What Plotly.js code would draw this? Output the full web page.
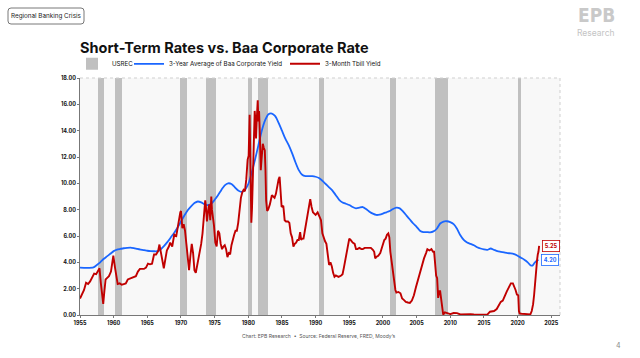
<!DOCTYPE html>
<html>
<head>
<meta charset="utf-8">
<script src="https://cdn.plot.ly/plotly-3.0.1.min.js"></script>
<style>
html,body{margin:0;padding:0;background:#fff;}
#chart{width:640px;height:358px;}
</style>
</head>
<body>
<div id="chart"></div>
<script>
// Recession periods (USREC = 1), start / end in decimal years, as shaded in the chart
const recStart = [1957.6, 1960.2, 1969.8, 1973.7, 1979.9, 1981.4, 1990.5, 2001.1, 2007.8, 2020.0];
const recEnd   = [1958.6, 1961.3, 1970.9, 1975.2, 1980.6, 1982.9, 1991.3, 2002.0, 2009.6, 2020.5];

// 3-Month T-bill yield
const tbillYear = [
1955.0,1955.3,1955.6,1955.9,1956.2,1956.5,1956.8,1957.1,1957.4,1957.7,1957.9,1958.1,1958.3,1958.45,1958.6,1958.8,1959.0,1959.3,1959.6,1959.95,
1960.2,1960.4,1960.6,1960.9,1961.2,1961.5,1961.8,1962.1,1962.4,1962.7,1963.0,1963.3,1963.6,1963.9,1964.2,1964.5,1964.8,1965.1,1965.4,1965.7,
1966.0,1966.3,1966.6,1966.8,1967.0,1967.2,1967.45,1967.7,1967.9,1968.2,1968.4,1968.7,1969.0,1969.3,1969.6,1969.9,1970.0,1970.2,1970.4,1970.6,
1970.8,1971.0,1971.2,1971.4,1971.6,1971.8,1972.0,1972.2,1972.5,1972.8,1973.0,1973.2,1973.4,1973.6,1973.7,1973.85,1974.0,1974.2,1974.35,1974.5,
1974.6,1974.75,1974.9,1975.1,1975.3,1975.5,1975.7,1975.9,1976.1,1976.3,1976.5,1976.7,1976.9,1977.1,1977.3,1977.5,1977.7,1977.9,1978.1,1978.3,
1978.5,1978.7,1978.9,1979.1,1979.3,1979.5,1979.7,1979.9,1980.05,1980.2,1980.3,1980.45,1980.55,1980.7,1980.85,1980.95,1981.05,1981.15,1981.3,1981.4,
1981.5,1981.6,1981.7,1981.85,1981.95,1982.05,1982.15,1982.3,1982.45,1982.55,1982.65,1982.8,1982.95,1983.2,1983.5,1983.7,1983.9,1984.1,1984.3,1984.5,
1984.65,1984.8,1984.95,1985.2,1985.4,1985.6,1985.9,1986.1,1986.3,1986.5,1986.7,1986.9,1987.1,1987.3,1987.5,1987.7,1987.85,1988.0,1988.2,1988.4,
1988.6,1988.8,1989.0,1989.2,1989.4,1989.6,1989.8,1990.0,1990.3,1990.6,1990.8,1991.0,1991.2,1991.4,1991.6,1991.8,1992.0,1992.2,1992.4,1992.6,
1992.8,1993.0,1993.4,1993.8,1994.0,1994.2,1994.4,1994.6,1994.8,1995.0,1995.2,1995.5,1995.8,1996.0,1996.2,1996.5,1996.8,1997.0,1997.3,1997.6,
1997.9,1998.2,1998.5,1998.7,1998.85,1999.0,1999.3,1999.6,1999.9,2000.2,2000.4,2000.6,2000.8,2000.95,2001.1,2001.3,2001.5,2001.7,2001.85,2002.0,
2002.3,2002.6,2002.85,2003.1,2003.4,2003.7,2004.0,2004.3,2004.6,2004.9,2005.2,2005.5,2005.8,2006.1,2006.4,2006.6,2006.9,2007.2,2007.45,2007.6,
2007.75,2007.9,2008.05,2008.2,2008.35,2008.5,2008.65,2008.8,2008.95,2009.2,2009.6,2010.0,2010.5,2011.0,2011.5,2012.0,2012.5,2013.0,2013.5,2014.0,
2014.5,2015.0,2015.5,2015.9,2016.2,2016.5,2016.9,2017.2,2017.5,2017.8,2018.1,2018.4,2018.7,2019.0,2019.3,2019.5,2019.7,2019.9,2020.1,2020.2,
2020.3,2020.6,2021.0,2021.5,2021.9,2022.1,2022.3,2022.45,2022.6,2022.75,2022.9,2023.0,2023.1,2023.2
];
const tbillYield = [
1.25,1.55,1.9,2.45,2.35,2.55,2.9,3.15,3.1,3.35,3.55,2.4,1.2,0.85,1.7,2.7,2.8,2.95,3.3,4.5,
3.6,2.9,2.35,2.4,2.3,2.35,2.4,2.7,2.75,2.85,2.9,2.95,3.3,3.5,3.5,3.5,3.6,3.9,3.85,3.9,
4.6,4.6,4.85,5.35,4.8,4.3,3.55,4.3,4.9,5.2,5.5,5.2,6.1,6.0,7.0,7.8,7.9,6.6,6.9,6.4,
5.4,4.2,3.4,4.5,5.4,4.7,3.4,3.2,4.0,4.8,5.4,6.2,7.2,8.7,8.3,7.1,7.8,8.4,7.2,9.0,
8.0,7.5,6.8,5.5,5.2,6.4,6.2,5.4,5.0,5.2,5.3,5.0,4.4,4.7,4.6,5.3,5.8,6.1,6.4,6.4,
7.0,8.0,8.9,9.3,9.5,9.4,10.3,11.8,12.1,15.2,11.5,7.0,8.1,10.3,13.7,15.5,14.8,13.4,15.3,16.3,
14.7,15.5,14.0,11.0,11.7,12.8,13.0,12.7,12.5,11.0,8.7,7.9,8.0,8.4,9.1,9.0,8.9,9.2,9.8,10.3,
10.5,9.5,8.2,8.3,7.2,7.1,7.1,7.0,6.2,5.9,5.2,5.4,5.5,5.7,5.7,6.3,5.7,5.8,5.8,6.4,
7.0,7.6,8.3,8.8,8.2,7.8,7.7,7.6,7.8,7.5,7.2,6.2,5.8,5.6,5.4,4.6,3.8,4.0,3.7,3.2,
2.9,3.0,2.9,3.0,3.1,3.6,4.2,4.6,5.3,5.8,5.7,5.5,5.4,5.0,5.0,5.1,5.0,5.0,5.1,5.1,
5.1,5.1,4.95,4.8,4.3,4.4,4.5,4.7,5.2,5.7,5.8,6.1,6.2,5.9,4.8,3.9,3.5,2.4,1.9,1.7,
1.75,1.65,1.25,1.15,1.0,0.95,0.92,1.1,1.5,2.1,2.7,3.1,3.7,4.3,4.7,5.0,4.9,5.0,4.8,4.8,
3.9,3.0,2.8,1.3,1.8,1.8,1.2,0.3,0.03,0.2,0.15,0.07,0.15,0.14,0.04,0.05,0.09,0.07,0.04,0.05,
0.03,0.02,0.03,0.25,0.3,0.3,0.45,0.75,1.0,1.1,1.5,1.8,2.1,2.4,2.4,2.2,1.9,1.55,1.5,0.3,
0.12,0.1,0.08,0.05,0.05,0.3,0.8,1.5,2.6,3.3,4.2,4.6,4.8,5.25
];

// 3-Year average of Baa corporate yield
const baaYear = [
1955.0,1956.0,1957.0,1957.5,1958.0,1958.5,1959.0,1959.5,1960.0,1960.5,1961.0,1961.5,1962.0,1962.5,1963.0,1963.5,1964.0,1964.5,1965.0,1965.5,
1966.0,1966.5,1967.0,1967.5,1968.0,1968.5,1969.0,1969.5,1970.0,1970.5,1971.0,1971.5,1972.0,1972.5,1973.0,1973.5,1974.0,1974.5,1975.0,1975.5,
1976.0,1976.5,1977.0,1977.5,1978.0,1978.5,1979.0,1979.5,1980.0,1980.5,1981.0,1981.5,1982.0,1982.5,1983.0,1983.5,1984.0,1984.5,1985.0,1985.5,
1986.0,1986.5,1987.0,1987.5,1988.0,1988.5,1989.0,1989.5,1990.0,1990.5,1991.0,1991.5,1992.0,1992.5,1993.0,1993.5,1994.0,1994.5,1995.0,1995.5,
1996.0,1996.5,1997.0,1997.5,1998.0,1998.5,1999.0,1999.5,2000.0,2000.5,2001.0,2001.5,2002.0,2002.5,2003.0,2003.5,2004.0,2004.5,2005.0,2005.5,
2006.0,2006.5,2007.0,2007.5,2008.0,2008.5,2009.0,2009.5,2010.0,2010.5,2011.0,2011.5,2012.0,2012.5,2013.0,2013.5,2014.0,2014.5,2015.0,2015.5,
2016.0,2016.5,2017.0,2017.5,2018.0,2018.5,2019.0,2019.5,2020.0,2020.5,2021.0,2021.5,2021.9,2022.2,2022.5,2022.8,2023.1
];
const baaAvg = [
3.6,3.58,3.62,3.8,4.0,4.25,4.45,4.65,4.85,4.97,5.02,5.07,5.1,5.12,5.08,5.02,4.97,4.93,4.88,4.85,
4.84,4.85,5.0,5.25,5.55,5.9,6.25,6.65,7.1,7.55,7.95,8.25,8.5,8.62,8.55,8.4,8.35,8.45,8.75,9.1,
9.5,9.85,10.0,9.95,9.7,9.45,9.35,9.5,9.95,10.8,11.8,12.9,14.0,14.8,15.25,15.3,15.1,14.6,14.0,13.4,
12.9,12.3,11.6,11.0,10.65,10.55,10.55,10.55,10.5,10.4,10.2,9.95,9.7,9.45,9.1,8.75,8.55,8.45,8.35,8.2,
8.1,8.15,8.2,8.05,7.85,7.7,7.6,7.62,7.7,7.8,7.9,8.05,8.15,8.1,7.85,7.55,7.25,6.95,6.7,6.4,
6.3,6.3,6.28,6.35,6.55,6.95,7.1,7.12,7.05,6.9,6.55,6.05,5.7,5.5,5.4,5.3,5.15,5.05,4.98,4.95,
5.05,4.95,4.85,4.8,4.75,4.7,4.68,4.62,4.5,4.35,4.2,4.0,3.78,3.75,3.95,4.1,4.2
];

const xTicks = [1955,1960,1965,1970,1975,1980,1985,1990,1995,2000,2005,2010,2015,2020,2025];

const RED = '#c00000';
const BLUE = '#1a66ff';
const FONT = 'Inter, "DejaVu Sans", sans-serif';

const recMid = recStart.map((s,i)=>(s+recEnd[i])/2);
const recWidth = recStart.map((s,i)=>recEnd[i]-s);
const recTop = recStart.map(()=>18);

const traces = [
  {type:'bar', name:'USREC', x:recMid, y:recTop, width:recWidth, legend:'legend',
   marker:{color:'#c0c0c0', line:{width:0}}, hoverinfo:'skip'},
  {type:'scatter', mode:'lines', name:'3-Year Average of Baa Corporate Yield', legend:'legend2',
   x:baaYear, y:baaAvg, line:{color:BLUE, width:1.8, shape:'spline', smoothing:0.6}},
  {type:'scatter', mode:'lines', name:'3-Month Tbill Yield', legend:'legend3',
   x:tbillYear, y:tbillYield, line:{color:RED, width:1.9}}
];

const lastT = tbillYield.length-1, lastB = baaAvg.length-1;

const legFont = {size:6.2, color:'#111', family:FONT};
const legBase = {orientation:'h', xanchor:'left', y:1.06, yanchor:'middle',
                 font:legFont, bgcolor:'rgba(0,0,0,0)', itemwidth:30};

const layout = {
  width:640, height:358,
  margin:{l:80, r:80, t:78, b:43, pad:0},
  paper_bgcolor:'#ffffff', plot_bgcolor:'#f8f8f8',
  font:{family:FONT, color:'#111'},
  showlegend:true,
  legend:Object.assign({}, legBase, {x:(72-80)/480}),
  legend2:Object.assign({}, legBase, {x:(129-80)/480}),
  legend3:Object.assign({}, legBase, {x:(285-80)/480}),
  title:{text:'<b>Short-Term Rates vs. Baa Corporate Rate</b>', xref:'container', x:80/640, xanchor:'left',
         yref:'container', y:1-48/358, yanchor:'middle', font:{size:14.5, color:'#111', family:FONT}},
  bargap:0,
  xaxis:{range:[1955, 2026.3], tickvals:xTicks, ticktext:xTicks.map(String),
         showgrid:false, zeroline:false, showline:true, linecolor:'#777', linewidth:1,
         ticks:'outside', ticklen:2, tickcolor:'#777',
         tickfont:{size:5.5, color:'#111', family:FONT, weight:'bold'}},
  yaxis:{range:[0,18], dtick:2, tickformat:'.2f', showgrid:false, zeroline:false,
         showline:true, linecolor:'#777', linewidth:1, ticks:'outside', ticklen:2, tickcolor:'#777',
         tickfont:{size:5.5, color:'#111', family:FONT, weight:'bold'}},
  shapes:[
    {type:'line', xref:'paper', yref:'paper', x0:0, x1:1, y0:1, y1:1, line:{color:'#cfcfcf', width:1, dash:'dot'}},
    {type:'line', xref:'paper', yref:'paper', x0:1, x1:1, y0:0, y1:1, line:{color:'#cfcfcf', width:1, dash:'dot'}},
    // rounded box for tag
    {type:'path', xref:'paper', yref:'paper', xsizemode:'pixel', ysizemode:'pixel',
     xanchor:-80/480, yanchor:1+78/237,
     path:'M 11,-8 L 81,-8 Q 84,-8 84,-11 L 84,-21 Q 84,-24 81,-24 L 11,-24 Q 8,-24 8,-21 L 8,-11 Q 8,-8 11,-8 Z',
     line:{color:'#555', width:0.8}, fillcolor:'rgba(0,0,0,0)'}
  ],
  annotations:[
    {x:tbillYear[lastT], y:tbillYield[lastT], xref:'x', yref:'y', text:'<b>'+tbillYield[lastT].toFixed(2)+'</b>',
     showarrow:false, xanchor:'left', xshift:3, font:{size:5.5, color:RED, family:FONT},
     bgcolor:'#fff', bordercolor:RED, borderwidth:0.8, borderpad:2},
    {x:baaYear[lastB], y:baaAvg[lastB], xref:'x', yref:'y', text:'<b>'+baaAvg[lastB].toFixed(2)+'</b>',
     showarrow:false, xanchor:'left', xshift:3, font:{size:5.5, color:BLUE, family:FONT},
     bgcolor:'#fff', bordercolor:BLUE, borderwidth:0.8, borderpad:2},
    {xref:'paper', yref:'paper', x:(46-80)/480, y:(315-16)/237, text:'Regional Banking Crisis',
     showarrow:false, xanchor:'center', yanchor:'middle', font:{size:6.3, color:'#222', family:FONT}},
    {xref:'paper', yref:'paper', x:(596-80)/480, y:(315-15)/237, text:'<b>EPB</b>',
     showarrow:false, xanchor:'center', yanchor:'middle', font:{size:19, color:'#c9c9c9', family:'"DejaVu Sans Condensed", "DejaVu Sans", sans-serif'}},
    {xref:'paper', yref:'paper', x:(596-80)/480, y:(315-33)/237, text:'Research',
     showarrow:false, xanchor:'center', yanchor:'middle', font:{size:8.5, color:'#c4c4c4', family:FONT}},
    {xref:'paper', yref:'paper', x:(319-80)/480, y:(315-336)/237, text:'Chart: EPB Research  \u2022  Source: Federal Reserve, FRED, Moody\u2019s',
     showarrow:false, xanchor:'center', yanchor:'middle', font:{size:5, color:'#555', family:FONT}},
    {xref:'paper', yref:'paper', x:(618-80)/480, y:(315-345)/237, text:'4',
     showarrow:false, xanchor:'center', yanchor:'middle', font:{size:7, color:'#888', family:FONT}}
  ]
};

Plotly.newPlot('chart', traces, layout, {staticPlot:true, displayModeBar:false});
</script>
</body>
</html>
